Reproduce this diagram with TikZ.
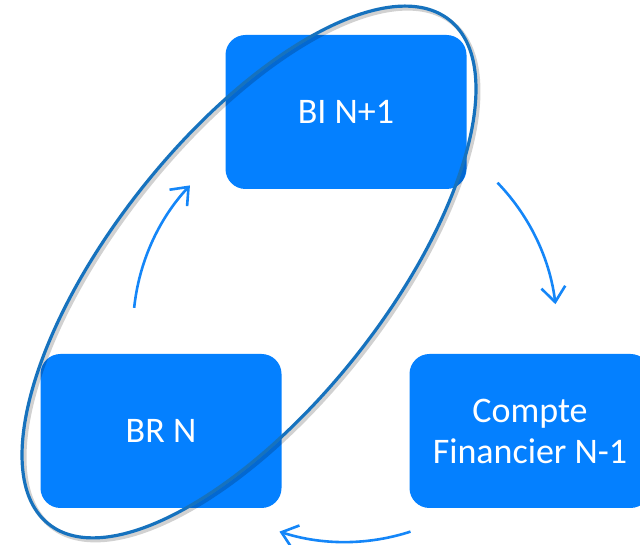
\documentclass[tikz,border=0pt]{standalone}
\usepackage{fontspec}
\setmainfont{Carlito}
\usetikzlibrary{arrows.meta,calc}
\definecolor{boxblue}{RGB}{4,128,255}
\definecolor{arrblue}{RGB}{20,134,248}
\definecolor{ellblue}{RGB}{22,114,190}
\tikzset{
  stagebox/.style={draw=none, fill=boxblue, rounded corners=20pt, minimum width=241pt,
    minimum height=154pt, inner sep=0pt, text=white, align=center,
    font=\fontsize{36}{41}\selectfont},
  cyclearrow/.style={draw=arrblue, line width=2.6pt,
    -{Straight Barb[length=15pt,width=24pt,line width=2.6pt]}},
  ringline/.style={draw=ellblue, line width=3.2pt},
  ringshadow/.style={draw=black, opacity=0.18, line width=4pt}
}
\begin{document}
\begin{tikzpicture}[x=1pt,y=1pt]
\useasboundingbox (0,0) rectangle (640,545);
\clip (0,0) rectangle (640,545);
\fill[white] (0,0) rectangle (640,545);
% boxes
\node[stagebox] (bi) at (346,433) {BI N+1};
\node[stagebox] (br) at (161,114) {BR N};
\node[stagebox] (cf) at (530,114) {Compte\\Financier N-1};
% arrows on a common circle
\coordinate (cc) at (345,215);
\coordinate (a1s) at ($(cc)+(44:212)$);
\coordinate (a2s) at ($(cc)+(-72:212)$);
\coordinate (a3s) at ($(cc)+(174:212)$);
\draw[cyclearrow] (a1s) arc[start angle=44, end angle=7, radius=212pt];
\draw[cyclearrow] (a2s) arc[start angle=-72, end angle=-108, radius=212pt];
\draw[cyclearrow] (a3s) arc[start angle=174, end angle=137, radius=212pt];
% tilted ellipse
\coordinate (ec) at (249,273);
\begin{scope}[shift={(251.5,270.5)}, rotate=51.5]
  \draw[ringshadow] (0,0) ellipse [x radius=322pt, y radius=136pt];
\end{scope}
\begin{scope}[shift={(ec)}, rotate=51.5]
  \draw[ringline] (0,0) ellipse [x radius=322pt, y radius=136pt];
\end{scope}
\end{tikzpicture}
\end{document}
